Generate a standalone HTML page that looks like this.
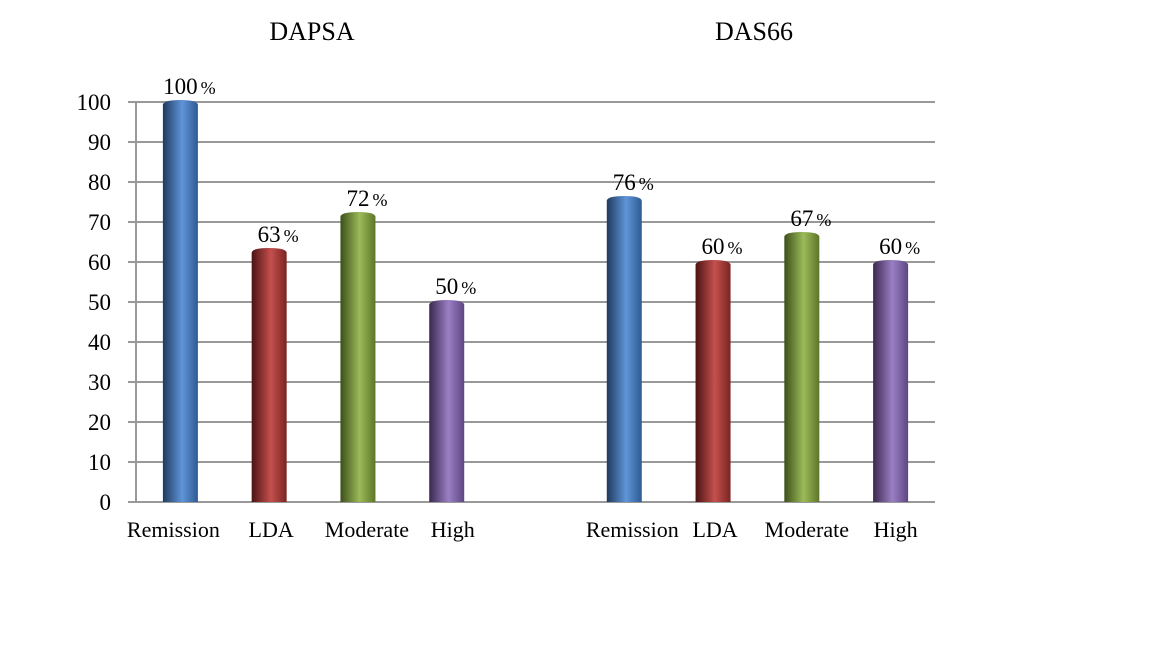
<!DOCTYPE html>
<html><head><meta charset="utf-8"><style>
html,body{margin:0;padding:0;background:#fff;width:1152px;height:648px;overflow:hidden}
svg text{font-family:"Liberation Serif",serif;fill:#000}
</style></head><body>
<svg id="chart" width="1152" height="648" viewBox="0 0 1152 648" xmlns="http://www.w3.org/2000/svg">
<defs>
<linearGradient id="g0" x1="0" x2="1"><stop offset="0" stop-color="#1f3a5e"/><stop offset="0.55" stop-color="#5f95d8"/><stop offset="1" stop-color="#2e5a92"/></linearGradient>
<linearGradient id="g1" x1="0" x2="1"><stop offset="0" stop-color="#4a1312"/><stop offset="0.55" stop-color="#c5504e"/><stop offset="1" stop-color="#7a2422"/></linearGradient>
<linearGradient id="g2" x1="0" x2="1"><stop offset="0" stop-color="#3d4f1a"/><stop offset="0.55" stop-color="#9bbb59"/><stop offset="1" stop-color="#5d7529"/></linearGradient>
<linearGradient id="g3" x1="0" x2="1"><stop offset="0" stop-color="#3a2850"/><stop offset="0.55" stop-color="#9b7fc4"/><stop offset="1" stop-color="#5d4682"/></linearGradient>
</defs>
<text x="312" y="40" font-size="26" text-anchor="middle">DAPSA</text>
<text x="754" y="40" font-size="26" text-anchor="middle">DAS66</text>
</svg>
<script>
const categories=["Remission","LDA","Moderate","High","","Remission","LDA","Moderate","High"];
const values=[100,63,72,50,null,76,60,67,60];
const valueNums=["100","63","72","50","","76","60","67","60"];
const yTicks=[0,10,20,30,40,50,60,70,80,90,100];
const svg=document.getElementById('chart');
const NS="http://www.w3.org/2000/svg";
const x0=136,x1=935,y0=502,yTop=102;
const y=v=>y0-(v/100)*(y0-yTop);
const slot=(x1-x0)/categories.length;
const xc=i=>x0+slot*(i+0.5);
const catOffset=[-7,2,9,6,0,8,2,5,5];
function el(t,a){const e=document.createElementNS(NS,t);for(const k in a)e.setAttribute(k,a[k]);svg.appendChild(e);return e;}
yTicks.forEach(t=>{
  const g=el('line',{x1:x0-8,x2:x1,y1:y(t),y2:y(t),stroke:'#999','stroke-width':2});
  
  
  const tx=el('text',{x:111,y:y(t)+8,'font-size':23,'text-anchor':'end'});tx.textContent=t;
  
  
});
const ax=el('line',{x1:x0,x2:x0,y1:yTop,y2:y0,stroke:'#999','stroke-width':2});


const bw=35;
values.forEach((v,i)=>{
  const c=xc(i);
  if(categories[i]){
    const lb=el('text',{x:c+catOffset[i],y:537,'font-size':22,'text-anchor':'middle'});lb.textContent=categories[i];
    
    
  }
  if(v==null)return;
  const k=i%5;
  const top=y(v);
  const b=el('path',{d:`M${c-bw/2},${y0} L${c-bw/2},${top+3} Q${c-bw/2},${top-2} ${c},${top-2} Q${c+bw/2},${top-2} ${c+bw/2},${top+3} L${c+bw/2},${y0} Z`,fill:`url(#g${k})`});
  
  
  const t=el('text',{x:c+9,y:top-8,'font-size':23,'text-anchor':'middle'});
  
  
  t.textContent=valueNums[i];
  const p=document.createElementNS(NS,'tspan');
  p.setAttribute('font-size','18');
  p.setAttribute('dx','3');
  p.textContent='%';
  t.appendChild(p);
});
</script>
</body></html>
